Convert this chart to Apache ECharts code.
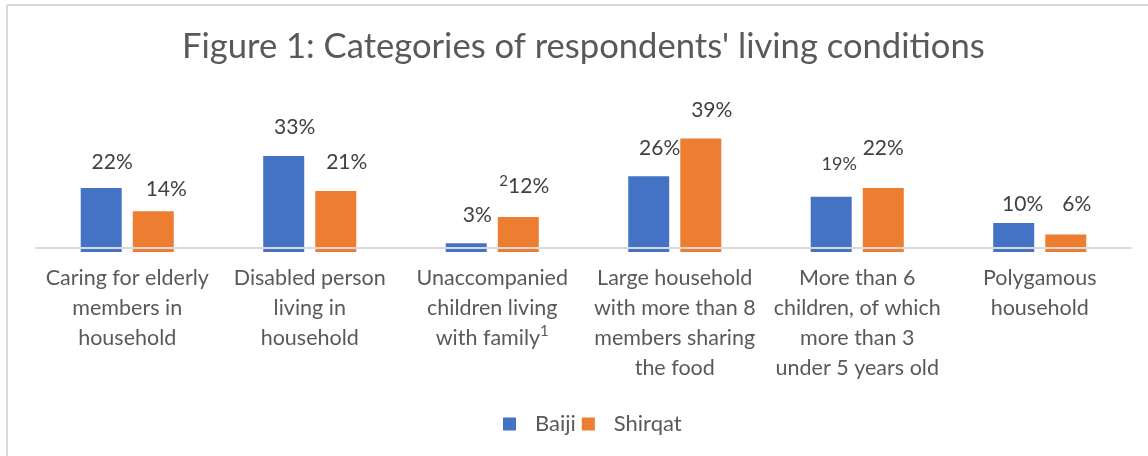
<!DOCTYPE html>
<html>
<head>
<meta charset="utf-8">
<script src="https://cdn.jsdelivr.net/npm/echarts@6/dist/echarts.min.js"></script>
<style>
  html, body { margin: 0; padding: 0; background: #fff; }
  #chart { width: 1148px; height: 456px; }
</style>
</head>
<body>
<div id="chart"></div>
<script>
// data
const categories = [
    "Caring for elderly\nmembers in\nhousehold",
    "Disabled person\nliving in\nhousehold",
    "Unaccompanied\nchildren living\nwith family¹",
    "Large household\nwith more than 8\nmembers sharing\nthe food",
    "More than 6\nchildren, of which\nmore than 3\nunder 5 years old",
    "Polygamous\nhousehold"
];
const baiji = [22, 33, 3, 26, 19, 10];
const shirqat = [14, 21, 12, 39, 22, 6];

const FONT = "Lato";
const GREY = "#595959";

// label nudges so they sit where the original ones do
const baijiLabelFix = {
    0: { offset: [11, 3] },
    4: { offset: [8, -6], fontSize: 18 },
    5: { offset: [9, 10] }
};
const shirqatLabelFix = {
    0: { offset: [13, 6] },
    2: { offset: [6, 0], formatter: "{sup|2}{c}%" },
    4: { offset: [0, -11] },
    5: { offset: [11, -2] }
};

function buildData(values, fixes) {
    return values.map((v, i) => {
        if (!fixes[i]) return v;
        return { value: v, label: fixes[i] };
    });
}

const chart = echarts.init(document.getElementById("chart"));

const option = {
    animation: false,
    textStyle: { fontFamily: FONT },
    title: {
        text: "Figure 1: Categories of respondents' living conditions",
        left: 177,
        top: 24,
        textStyle: { fontFamily: FONT, fontSize: 34.6, fontWeight: "normal", color: GREY }
    },
    legend: {
        data: ["Baiji", "Shirqat"],
        bottom: 16,
        left: 498,
        icon: "rect",
        itemWidth: 13,
        itemHeight: 13,
        itemGap: 6,
        textStyle: { fontFamily: FONT, fontSize: 22, color: GREY, padding: [0, 0, 0, 14] }
    },
    grid: { left: 36, right: 17, top: 135.6, bottom: 204 },
    xAxis: {
        type: "category",
        data: categories,
        z: 5,
        offset: -4.5,
        axisLine: { onZero: false, lineStyle: { color: "#d9d9d9", width: 2 } },
        axisTick: { show: false },
        axisLabel: {
            interval: 0,
            margin: 16,
            fontFamily: FONT,
            fontSize: 21.5,
            lineHeight: 30,
            color: GREY,
            formatter: v => v.replace("¹", "{sup|1}"),
            rich: {
                sup: { fontSize: 15, lineHeight: 30, verticalAlign: "top", padding: [0, 0, 12, 0], color: GREY, fontFamily: FONT }
            }
        }
    },
    yAxis: { type: "value", min: 0, max: 40, show: false, splitLine: { show: false } },
    series: [
        {
            name: "Baiji",
            type: "bar",
            barWidth: 41,
            barGap: "27%",
            itemStyle: { color: "#4472c4" },
            label: {
                show: true, position: "top", distance: 18, offset: [11, 0],
                formatter: "{c}%", fontFamily: FONT, fontSize: 21, color: "#404040"
            },
            data: buildData(baiji, baijiLabelFix)
        },
        {
            name: "Shirqat",
            type: "bar",
            barWidth: 41,
            itemStyle: { color: "#ed7d31" },
            label: {
                show: true, position: "top", distance: 18, offset: [11, 0],
                formatter: "{c}%", fontFamily: FONT, fontSize: 21, color: "#404040",
                rich: { sup: { fontSize: 15, padding: [0, 0, 10, 0], color: "#404040", fontFamily: FONT } }
            },
            data: buildData(shirqat, shirqatLabelFix)
        }
    ],
    graphic: [
        { type: "line", shape: { x1: 7, y1: 5, x2: 1148, y2: 5 }, style: { stroke: "#d9d9d9", lineWidth: 2 } },
        { type: "line", shape: { x1: 7, y1: 5, x2: 7, y2: 456 }, style: { stroke: "#d9d9d9", lineWidth: 2 } }
    ]
};
chart.setOption(option);
</script>
</body>
</html>
